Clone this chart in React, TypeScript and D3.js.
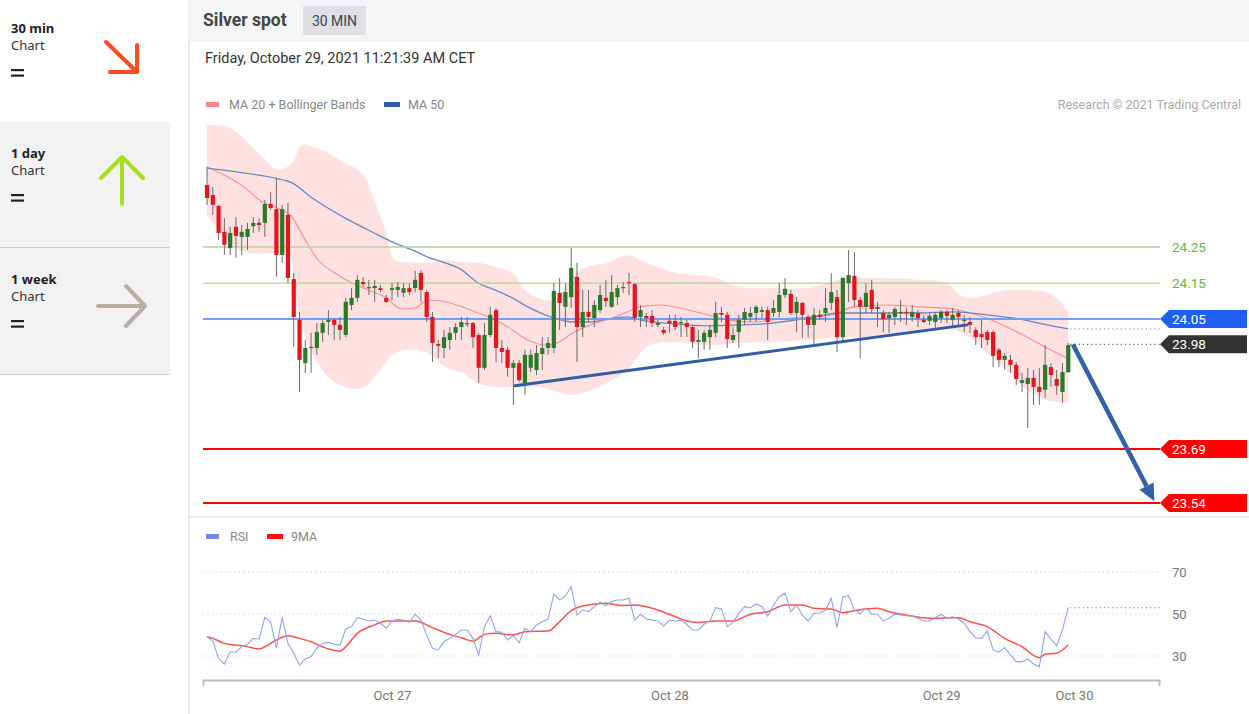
import React, { useEffect, useRef } from 'react';
import * as d3 from 'd3';

// 30 min candles, [open, high, low, close]
const candles: [number, number, number, number][] = [
  [24.422, 24.472, 24.367, 24.386], [24.394, 24.416, 24.339, 24.367], [24.364, 24.367, 24.269, 24.289], [24.292, 24.330, 24.228, 24.256],
  [24.247, 24.306, 24.228, 24.289], [24.306, 24.333, 24.220, 24.281], [24.278, 24.311, 24.228, 24.292], [24.278, 24.317, 24.242, 24.300],
  [24.308, 24.333, 24.289, 24.317], [24.317, 24.330, 24.292, 24.311], [24.317, 24.380, 24.278, 24.369], [24.369, 24.403, 24.353, 24.358],
  [24.355, 24.441, 24.167, 24.228], [24.228, 24.367, 24.206, 24.355], [24.339, 24.372, 24.150, 24.164], [24.161, 24.178, 23.973, 24.056],
  [24.048, 24.070, 23.848, 23.937], [23.928, 23.992, 23.901, 23.970], [23.970, 24.012, 23.901, 23.973], [23.970, 24.039, 23.951, 24.014],
  [24.012, 24.048, 23.987, 24.039], [24.042, 24.075, 24.006, 24.048], [24.048, 24.053, 23.992, 24.034], [24.034, 24.056, 23.992, 24.020],
  [24.006, 24.109, 24.000, 24.098], [24.089, 24.136, 24.075, 24.109], [24.109, 24.172, 24.098, 24.159], [24.153, 24.167, 24.139, 24.147],
  [24.136, 24.159, 24.117, 24.139], [24.136, 24.159, 24.098, 24.142], [24.136, 24.145, 24.125, 24.131], [24.109, 24.117, 24.095, 24.098],
  [24.131, 24.150, 24.103, 24.136], [24.131, 24.153, 24.111, 24.139], [24.123, 24.150, 24.111, 24.136], [24.136, 24.150, 24.117, 24.125],
  [24.136, 24.184, 24.125, 24.159], [24.178, 24.186, 24.098, 24.131], [24.125, 24.131, 24.042, 24.056], [24.056, 24.070, 23.931, 23.984],
  [23.981, 23.992, 23.942, 23.976], [23.970, 24.020, 23.942, 24.000], [23.992, 24.028, 23.965, 24.012], [24.012, 24.039, 23.992, 24.028],
  [24.028, 24.056, 23.992, 24.042], [24.037, 24.056, 24.028, 24.039], [24.039, 24.042, 23.970, 24.000], [24.006, 24.012, 23.873, 23.915],
  [23.915, 24.039, 23.909, 24.006], [24.006, 24.084, 24.000, 24.062], [24.075, 24.081, 23.931, 23.970], [23.970, 23.992, 23.928, 23.959],
  [23.965, 23.973, 23.890, 23.915], [23.915, 23.937, 23.812, 23.928], [23.928, 23.937, 23.876, 23.881], [23.873, 23.965, 23.840, 23.951],
  [23.915, 23.965, 23.903, 23.951], [23.909, 23.978, 23.895, 23.956], [23.953, 24.000, 23.909, 23.970], [23.970, 24.000, 23.951, 23.984],
  [23.970, 24.150, 23.956, 24.128], [24.123, 24.164, 24.020, 24.095], [24.084, 24.150, 24.028, 24.125], [24.111, 24.247, 24.081, 24.192],
  [24.167, 24.206, 23.931, 24.028], [24.028, 24.131, 24.000, 24.070], [24.070, 24.131, 24.042, 24.056], [24.053, 24.103, 24.028, 24.089],
  [24.075, 24.145, 24.067, 24.117], [24.109, 24.159, 24.084, 24.100], [24.084, 24.172, 24.081, 24.125], [24.111, 24.145, 24.089, 24.136],
  [24.136, 24.153, 24.123, 24.139], [24.153, 24.178, 24.117, 24.150], [24.147, 24.150, 24.042, 24.053], [24.056, 24.089, 24.028, 24.075],
  [24.059, 24.067, 24.028, 24.053], [24.059, 24.075, 24.028, 24.039], [24.034, 24.048, 24.028, 24.039], [24.020, 24.028, 24.006, 24.012],
  [24.045, 24.062, 24.012, 24.039], [24.045, 24.062, 24.020, 24.028], [24.039, 24.056, 24.000, 24.042], [24.039, 24.048, 24.000, 24.028],
  [24.028, 24.034, 23.970, 23.987], [23.987, 24.020, 23.942, 23.992], [23.987, 24.020, 23.965, 24.012], [24.000, 24.034, 23.965, 24.020],
  [24.012, 24.098, 24.000, 24.067], [24.067, 24.084, 24.042, 24.062], [24.062, 24.070, 23.970, 23.995], [23.992, 24.028, 23.984, 24.006],
  [24.014, 24.062, 23.970, 24.048], [24.048, 24.081, 24.034, 24.070], [24.056, 24.084, 24.042, 24.067], [24.067, 24.089, 24.042, 24.084],
  [24.070, 24.084, 24.053, 24.075], [24.075, 24.084, 23.992, 24.042], [24.067, 24.103, 24.056, 24.081], [24.070, 24.150, 24.056, 24.117],
  [24.117, 24.164, 24.109, 24.134], [24.120, 24.131, 24.062, 24.067], [24.067, 24.111, 24.014, 24.098], [24.095, 24.098, 23.998, 24.062],
  [24.056, 24.062, 24.000, 24.034], [24.034, 24.081, 23.978, 24.062], [24.062, 24.075, 24.048, 24.056], [24.067, 24.136, 24.042, 24.081],
  [24.095, 24.178, 24.075, 24.125], [24.111, 24.131, 23.959, 24.000], [24.000, 24.167, 23.984, 24.164], [24.150, 24.242, 24.098, 24.172],
  [24.170, 24.236, 24.084, 24.103], [24.103, 24.111, 23.942, 24.084], [24.084, 24.150, 24.067, 24.123], [24.131, 24.159, 24.067, 24.078],
  [24.078, 24.098, 24.028, 24.084], [24.067, 24.075, 24.014, 24.050], [24.053, 24.070, 24.012, 24.062], [24.056, 24.084, 24.034, 24.078],
  [24.067, 24.103, 24.042, 24.070], [24.070, 24.081, 24.034, 24.067], [24.056, 24.089, 24.042, 24.070], [24.067, 24.075, 24.028, 24.053],
  [24.048, 24.062, 24.039, 24.042], [24.045, 24.070, 24.034, 24.059], [24.042, 24.070, 24.025, 24.062], [24.053, 24.075, 24.039, 24.070],
  [24.070, 24.075, 24.039, 24.059], [24.048, 24.081, 24.028, 24.062], [24.067, 24.075, 24.028, 24.056], [24.045, 24.062, 24.014, 24.048],
  [24.042, 24.056, 24.012, 24.034], [24.020, 24.028, 23.978, 24.000], [24.009, 24.048, 23.970, 24.000], [24.014, 24.020, 23.978, 23.992],
  [24.014, 24.020, 23.917, 23.948], [23.965, 23.970, 23.917, 23.937], [23.937, 23.956, 23.909, 23.948], [23.937, 23.951, 23.901, 23.923],
  [23.923, 23.931, 23.867, 23.884], [23.873, 23.901, 23.848, 23.881], [23.870, 23.915, 23.748, 23.887], [23.887, 23.909, 23.812, 23.862],
  [23.862, 23.915, 23.812, 23.848], [23.854, 23.978, 23.831, 23.923], [23.917, 23.928, 23.862, 23.895], [23.884, 23.909, 23.840, 23.865],
  [23.848, 23.928, 23.818, 23.903], [23.903, 23.984, 23.901, 23.978],
];

// [candle index, price]
const bbUpper: [number, number][] = [
  [0, 24.588], [3.6, 24.583], [6.6, 24.547], [9.5, 24.5], [12.3, 24.464], [14.7, 24.483], [16.4, 24.533], [18.7, 24.525],
  [20.9, 24.511], [23.9, 24.483], [26.8, 24.455], [29.1, 24.372], [30.8, 24.297], [32.5, 24.214], [35.5, 24.208], [38.2, 24.206],
  [41.2, 24.214], [44.1, 24.208], [46.9, 24.206], [49.8, 24.195], [52.8, 24.178], [55.5, 24.123], [58.5, 24.103], [60, 24.103],
  [64.5, 24.186], [69.2, 24.206], [72.7, 24.228], [75.8, 24.208], [80.6, 24.181], [87.5, 24.167], [92.2, 24.139], [97.9, 24.136],
  [103.8, 24.136], [109.5, 24.159], [115.2, 24.164], [123.4, 24.159], [128, 24.15], [130.3, 24.117], [133.2, 24.109], [136, 24.123],
  [138.9, 24.131], [141.9, 24.131], [145.3, 24.125], [147.6, 24.098], [149, 24.07],
];
const bbLower: [number, number][] = [
  [0, 24.339], [3.6, 24.269], [6.6, 24.236], [11.8, 24.233], [14, 24.233], [15.2, 24.139], [16.4, 24.028], [18.2, 23.956],
  [20.9, 23.89], [23.9, 23.862], [26.8, 23.859], [29.6, 23.901], [32.5, 23.956], [35.5, 23.965], [38.2, 23.956], [41.2, 23.917],
  [44.1, 23.901], [46.9, 23.873], [49.8, 23.862], [52.8, 23.862], [57.6, 23.862], [63.3, 23.84], [69.2, 23.873], [72.7, 23.909],
  [76.1, 23.973], [80.6, 23.987], [86.5, 23.978], [92.2, 23.984], [97.9, 23.987], [103.8, 23.992], [108.3, 23.998], [112.5, 24.0],
  [117.6, 24.0], [123.4, 24.014], [129.1, 24.02], [132, 24.0], [134.9, 23.956], [138.4, 23.909], [141.9, 23.854], [145.3, 23.826],
  [149, 23.818],
];
const ma20: [number, number][] = [
  [0, 24.472], [3.6, 24.444], [6.6, 24.414], [9.5, 24.375], [11.8, 24.361], [14.7, 24.333], [17, 24.269], [19.2, 24.214],
  [22.1, 24.178], [25.1, 24.15], [27.9, 24.131], [30.8, 24.111], [33.7, 24.078], [36, 24.081], [38.2, 24.103], [41.2, 24.098],
  [44.1, 24.084], [46.9, 24.067], [49.8, 24.048], [52.8, 24.02], [55.5, 23.992], [58.5, 23.978], [60.6, 23.984], [63.3, 24.012],
  [66.3, 24.034], [69.2, 24.048], [72.7, 24.07], [74.9, 24.084], [78.4, 24.089], [81.8, 24.081], [86.5, 24.062], [90, 24.048],
  [94.5, 24.042], [97.9, 24.048], [101.4, 24.053], [104.8, 24.056], [108.3, 24.062], [111.8, 24.084], [117.6, 24.089], [123.4, 24.084],
  [129.1, 24.078], [132, 24.067], [134.9, 24.053], [138.4, 24.028], [141.9, 24.0], [145.3, 23.97], [148.8, 23.942],
];
const ma50: [number, number][] = [
  [0, 24.469], [6.6, 24.455], [11.8, 24.441], [14.7, 24.428], [18.2, 24.386], [20.9, 24.358], [23.9, 24.33], [26.8, 24.306],
  [29.6, 24.283], [32.5, 24.261], [35.5, 24.242], [38.2, 24.222], [41.2, 24.206], [44.1, 24.186], [46.9, 24.15], [49.8, 24.131],
  [52.8, 24.109], [55.5, 24.084], [58.5, 24.062], [63.3, 24.042], [66.3, 24.042], [69.2, 24.05], [72.7, 24.056], [74.9, 24.048],
  [80.6, 24.037], [86.5, 24.031], [92.2, 24.034], [97.9, 24.039], [103.8, 24.053], [109.5, 24.067], [115.2, 24.067], [123.4, 24.067],
  [129.1, 24.07], [134.9, 24.062], [140.7, 24.05], [145.3, 24.034], [149, 24.023],
];

const rsi: number[] = [
  39.2, 37.1, 28.9, 26.2, 32, 31.8, 34.4, 35.6, 38.4, 38.1, 48.4, 46.3, 33.7, 48.4, 36, 31.3, 25.7, 28.6, 29.7, 33.7,
  36, 36.5, 35.7, 35.2, 42.9, 44, 48.4, 47.6, 46.7, 47.1, 45.6, 43.2, 46.7, 47.5, 47.1, 46, 50, 47.1, 40, 33.7,
  32.9, 36.8, 38.4, 40.3, 42.4, 42.4, 38.4, 30.5, 44, 49.2, 41.6, 41.3, 37.6, 39.7, 36.3, 43.2, 41.6, 44.8, 46.3, 47.6,
  59.5, 56.7, 58.6, 63, 49.5, 51.9, 51.1, 53.5, 55.6, 54, 55.9, 56.7, 56.7, 57.5, 47.1, 49.9, 47.6, 47.1, 46.7, 44.3,
  47.1, 46.7, 47.1, 45, 42.4, 42.4, 45.1, 46.7, 53, 52.4, 44, 46, 50.3, 53.5, 53, 54.8, 53.5, 49, 54.3, 58.2,
  59.9, 51.1, 54.3, 49.5, 46.7, 50.3, 50.5, 51.9, 57.5, 43.5, 58.2, 58.7, 51.9, 50, 53, 49.9, 49.9, 46.7, 48, 49.9,
  49.5, 49.2, 49, 48, 46.7, 46.7, 48.2, 49.9, 48, 48.7, 47.6, 45.6, 41.6, 38.7, 38.4, 41.9, 32.9, 31.8, 34, 30.5,
  27.3, 27.3, 28.6, 26.2, 24.9, 41.6, 38, 34.9, 42.4, 53,
];
const rsiMa9: [number, number][] = [
  [0, 39.2], [1, 38.4], [3, 36], [5, 35.2], [7, 34.4], [9, 33.3], [10, 34.4], [12, 37.6], [14, 39.6], [16, 38.4],
  [18, 36.8], [20, 34.4], [21, 33.3], [23, 32.3], [24, 34.4], [26, 40.8], [29, 44.8], [31, 46.7], [33, 46.7], [36, 46.7],
  [39, 43.5], [42, 40.3], [44, 38.7], [46, 37.1], [48, 40.3], [50, 40.8], [53, 40], [55, 41.6], [59, 41.9], [61, 46.3],
  [63, 51.6], [66, 54.3], [69, 55.1], [70, 54.8], [72, 54], [74, 54.3], [78, 51.9], [81, 48.7], [83, 46.7], [85, 46],
  [88, 46.7], [91, 46.7], [94, 49.9], [97, 51.1], [100, 54.3], [103, 54.3], [105, 52.7], [108, 52.4], [110, 50.6], [112, 51.6],
  [116, 52.7], [118, 51.1], [121, 49.5], [125, 48], [130, 48.2], [132, 46.3], [135, 44], [138, 38.4], [141, 34.4], [144, 29.2],
  [145, 30.8], [147, 31.3], [149, 35.2],
];

const trendLine: [number, number][] = [[53.3, 23.865], [131.5, 24.034]];
const targetArrow: [number, number][] = [[149.8, 23.98], [163.9, 23.545]];
const resistances = [24.25, 24.15];
const pivot = 24.05;
const lastPrice = 23.98;
const supports = [23.69, 23.54];
const rsiLevels = [70, 50, 30];
const dayTicks = [32, 80, 127, 150];
const dayLabels = ['Oct 27', 'Oct 28', 'Oct 29', 'Oct 30'];

const horizons = [
  { title: '30 min', top: 0, h: 122, textY: 33, bg: '#ffffff', dir: 'down', color: '#ff4b1f' },
  { title: '1 day', top: 122, h: 126, textY: 158, bg: '#f2f2f2', dir: 'up', color: '#a7e021' },
  { title: '1 week', top: 248, h: 126, textY: 284, bg: '#f2f2f2', dir: 'flat', color: '#b7aea4' },
];

const FONT = 'Roboto, "Liberation Sans", Arial, sans-serif';
const SIDE_FONT = '"Noto Sans", "Open Sans", sans-serif';

function tagPath(x0: number, x1: number, cy: number) {
  return `M${x0},${cy} L${x0 + 9},${cy - 9} L${x1},${cy - 9} L${x1},${cy + 9} L${x0 + 9},${cy + 9} Z`;
}

function arrowIcon(dir: string, top: number) {
  if (dir === 'down') return `M106,${top + 42} L137,${top + 72} M137,${top + 45} L137,${top + 72} L110,${top + 72}`;
  if (dir === 'up') return `M122,${top + 82} L122,${top + 35} M101,${top + 56} L122,${top + 35} L143,${top + 56}`;
  return `M98,${top + 58} L145,${top + 58} M126,${top + 38} L145,${top + 58} L126,${top + 78}`;
}

export default function App() {
  const axisRef = useRef<SVGGElement>(null);

  const x = d3.scaleLinear().domain([-0.7, 164.7]).range([203, 1159]);
  const y = d3.scaleLinear().domain([23.54, 24.25]).range([503, 247]);
  const yr = d3.scaleLinear().domain([30, 70]).range([656, 572]);
  const left = 203, right = 1160, tagX = 1160, tagEnd = 1247;

  useEffect(() => {
    if (!axisRef.current) return;
    const ax = d3.axisBottom(x)
      .tickValues(dayTicks)
      .tickFormat((_d, i) => dayLabels[i])
      .tickSizeInner(0)
      .tickSizeOuter(6)
      .tickPadding(11);
    const g = d3.select(axisRef.current);
    g.call(ax as any);
    g.select('.domain').attr('stroke', '#bdbdbd').attr('stroke-width', 2);
    g.selectAll('text').attr('fill', '#777').attr('font-size', 13).attr('font-family', FONT);
  }, []);

  const edge = d3.line<[number, number]>().x(d => x(d[0])).y(d => y(d[1])).curve(d3.curveCatmullRom);
  const bandD = edge(bbUpper) + (edge([...bbLower].reverse()) || '').replace(/^M/, 'L') + 'Z';
  const smooth = d3.line<[number, number]>().x(d => x(d[0])).y(d => y(d[1])).curve(d3.curveMonotoneX);
  const rsiLine = d3.line<number>().x((_d, i) => x(i)).y(d => yr(d));
  const rsiMaLine = d3.line<[number, number]>().x(d => x(d[0])).y(d => yr(d[1])).curve(d3.curveMonotoneX);

  const lastIdx = candles.length - 1;
  const endX = x(lastIdx) + 2;

  // target arrow
  const ax0 = x(targetArrow[0][0]), ay0 = y(targetArrow[0][1]);
  const ax1 = x(targetArrow[1][0]), ay1 = y(targetArrow[1][1]);
  const len = Math.hypot(ax1 - ax0, ay1 - ay0);
  const ux = (ax1 - ax0) / len, uy = (ay1 - ay0) / len;
  const headL = 17, headW = 8;
  const bx = ax1 - ux * headL, by = ay1 - uy * headL;
  const head = `M${ax1},${ay1} L${bx - uy * headW},${by + ux * headW} L${bx + uy * headW},${by - ux * headW} Z`;

  return (
    <svg width={1249} height={714} style={{ position: 'absolute', left: 0, top: 0, background: '#fff' }}>
      {/* left horizon panel */}
      {horizons.map((h, i) => (
        <g key={i}>
          <rect x={0} y={h.top} width={170} height={h.h} fill={h.bg} />
          <text x={11} y={h.textY} fontFamily={SIDE_FONT} fontWeight={700} fontSize={13} fill="#222">{h.title}</text>
          <text x={11} y={h.textY + 17} fontFamily={SIDE_FONT} fontSize={13} fill="#333">Chart</text>
          <rect x={11} y={h.textY + 36} width={13} height={2.2} fill="#222" />
          <rect x={11} y={h.textY + 41.5} width={13} height={2.2} fill="#222" />
          <path d={arrowIcon(h.dir, h.top)} fill="none" stroke={h.color} strokeWidth={4} strokeLinecap="round" strokeLinejoin="round" />
        </g>
      ))}
      <line x1={0} x2={170} y1={247.5} y2={247.5} stroke="#cfcfcf" />
      <line x1={0} x2={170} y1={374.5} y2={374.5} stroke="#cfcfcf" />
      <rect x={188} y={0} width={2} height={714} fill="#ececec" />

      {/* header */}
      <rect x={190} y={0} width={1059} height={42} fill="#f5f5f5" />
      <text x={203} y={26} fontFamily={FONT} fontWeight={700} fontSize={17.5} fill="#444">Silver spot</text>
      <rect x={303} y={6} width={63} height={29} fill="#dee0e5" rx={1} />
      <text x={334.5} y={26} textAnchor="middle" fontFamily={FONT} fontSize={14} fill="#444">30 MIN</text>
      <text x={205} y={63} fontFamily={FONT} fontSize={14.5} fill="#333">Friday, October 29, 2021 11:21:39 AM CET</text>

      {/* legend */}
      <rect x={206} y={102} width={13} height={5} fill="#ff8585" />
      <text x={229} y={109} fontFamily={FONT} fontSize={12.5} fill="#888">MA 20 + Bollinger Bands</text>
      <rect x={384} y={102} width={16} height={5} fill="#2f5ca4" />
      <text x={408} y={109} fontFamily={FONT} fontSize={12.5} fill="#888">MA 50</text>
      <text x={1241} y={109} textAnchor="end" fontFamily={FONT} fontSize={12.5} fill="#aaa">Research © 2021 Trading Central</text>

      {/* bollinger band + moving averages */}
      <path d={bandD} fill="#ffe1e1" />
      <path d={smooth(ma20) || ''} fill="none" stroke="#ff8e8e" strokeWidth={1.1} />
      <path d={smooth(ma50) || ''} fill="none" stroke="#6b87c2" strokeWidth={1.3} />

      {/* levels */}
      {resistances.map(v => (
        <g key={v}>
          <line x1={left} x2={right} y1={y(v)} y2={y(v)} stroke="#b3d795" strokeWidth={1.3} />
          <text x={1172} y={y(v) + 5} fontFamily={FONT} fontSize={13.5} fill="#6db33f">{v.toFixed(2)}</text>
        </g>
      ))}
      <line x1={left} x2={right} y1={y(pivot)} y2={y(pivot)} stroke="#759ef6" strokeWidth={2} />
      <line x1={endX} x2={right} y1={y(ma50[ma50.length - 1][1])} y2={y(ma50[ma50.length - 1][1])} stroke="#8f9bb3" strokeWidth={1.2} strokeDasharray="1.2,3" />
      <line x1={endX} x2={right} y1={y(lastPrice)} y2={y(lastPrice)} stroke="#666" strokeWidth={1.2} strokeDasharray="1.2,3" />
      {supports.map(v => (
        <line key={v} x1={left} x2={right} y1={y(v)} y2={y(v)} stroke="#ff0000" strokeWidth={2} />
      ))}

      {/* candles */}
      {candles.map((c, i) => {
        const [o, h, l, cl] = c;
        const up = cl >= o;
        const cx = x(i);
        const top = y(Math.max(o, cl));
        const bh = Math.max(1.2, Math.abs(y(o) - y(cl)));
        return (
          <g key={i}>
            <line x1={cx} x2={cx} y1={y(h)} y2={y(l)} stroke="#6b6b6b" strokeWidth={1} />
            <rect x={cx - 2.1} y={top} width={4.2} height={bh} fill={up ? '#2b7a2b' : '#e8141b'} />
          </g>
        );
      })}

      {/* trend line and target arrow */}
      <path d={smooth(trendLine) || ''} stroke="#2f5ea5" strokeWidth={3} fill="none" strokeLinecap="round" />
      <line x1={ax0} y1={ay0} x2={bx} y2={by} stroke="#3462a6" strokeWidth={4.5} />
      <path d={head} fill="#3462a6" />

      {/* price tags */}
      <path d={tagPath(tagX, tagEnd, y(pivot))} fill="#1f5ff2" />
      <text x={1172} y={y(pivot) + 5} fontFamily={FONT} fontSize={13.5} fill="#fff">{pivot.toFixed(2)}</text>
      <path d={tagPath(tagX, tagEnd, y(lastPrice))} fill="#333" />
      <text x={1172} y={y(lastPrice) + 5} fontFamily={FONT} fontSize={13.5} fill="#fff">{lastPrice.toFixed(2)}</text>
      {supports.map(v => (
        <g key={v}>
          <path d={tagPath(tagX, tagEnd, y(v))} fill="#ff0000" />
          <text x={1172} y={y(v) + 5} fontFamily={FONT} fontSize={13.5} fill="#fff">{v.toFixed(2)}</text>
        </g>
      ))}

      {/* RSI panel */}
      <rect x={190} y={516} width={1059} height={2} fill="#e8ecf1" />
      <rect x={206} y={534} width={13} height={5} fill="#6d8ee8" />
      <text x={230} y={541} fontFamily={FONT} fontSize={12.5} fill="#888">RSI</text>
      <rect x={267} y={534} width={16} height={5} fill="#ff1010" />
      <text x={291} y={541} fontFamily={FONT} fontSize={12.5} fill="#888">9MA</text>
      {rsiLevels.map(v => (
        <g key={v}>
          <line x1={left} x2={right} y1={yr(v)} y2={yr(v)} stroke="#c4c4c4" strokeWidth={1} strokeDasharray="1,3.5" />
          <text x={1172} y={yr(v) + 5} fontFamily={FONT} fontSize={13} fill="#777">{v}</text>
        </g>
      ))}
      <line x1={endX} x2={right} y1={yr(rsi[lastIdx])} y2={yr(rsi[lastIdx])} stroke="#7f9cf0" strokeWidth={1.2} strokeDasharray="1.2,3" />
      <path d={rsiMaLine(rsiMa9) || ''} fill="none" stroke="#ff5050" strokeWidth={1.5} />
      <path d={rsiLine(rsi) || ''} fill="none" stroke="#8ea6ef" strokeWidth={1.1} />

      <g ref={axisRef} transform="translate(0,680)" />
    </svg>
  );
}
